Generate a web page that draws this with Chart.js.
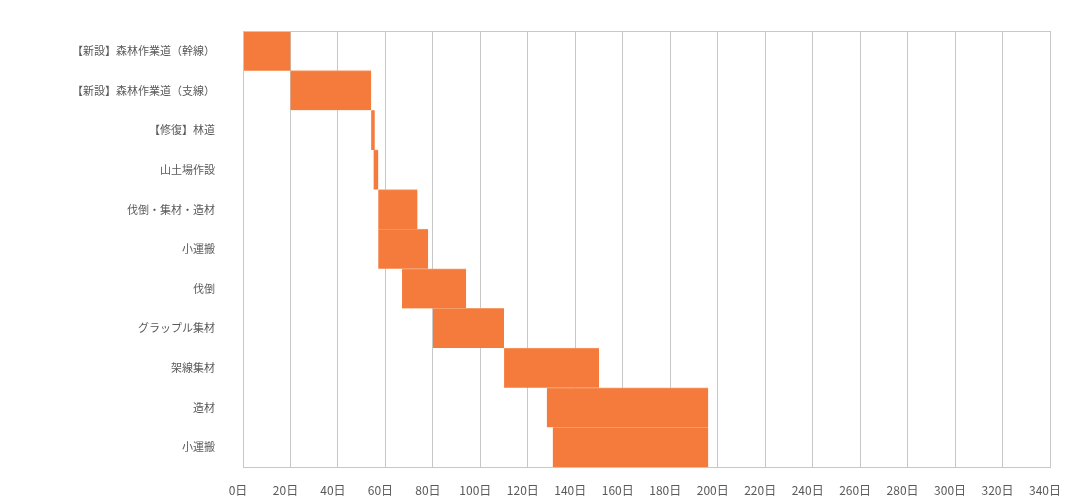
<!DOCTYPE html>
<html>
<head>
<meta charset="utf-8">
<script src="https://cdn.jsdelivr.net/npm/chart.js@4"></script>
<style>
  html, body { margin: 0; padding: 0; background: #fff; }
  #wrap { width: 1078px; height: 503px; }
</style>
</head>
<body>
<div id="wrap"><canvas id="myChart" width="1078" height="503"></canvas></div>
<script>
const tasks = [
  '【新設】森林作業道（幹線）',
  '【新設】森林作業道（支線）',
  '【修復】林道',
  '山土場作設',
  '伐倒・集材・造材',
  '小運搬',
  '伐倒',
  'グラップル集材',
  '架線集材',
  '造材',
  '小運搬'
];
const startDays = [0, 20, 54, 55, 57, 57, 67, 80, 110, 128, 130.5];
const endDays   = [20, 54, 55.5, 57, 73.5, 78, 94, 110, 150, 196, 196];
const xMax = 340;
const xStep = 20;

const spans = startDays.map((s, i) => [s, endDays[i]]);

const frame = {
  id: 'frame',
  afterDraw(chart) {
    const a = chart.chartArea;
    const ctx = chart.ctx;
    ctx.save();
    ctx.strokeStyle = '#c8c8c8';
    ctx.lineWidth = 1;
    ctx.strokeRect(Math.round(a.left) + 0.5, Math.round(a.top) + 0.5,
      Math.round(a.right - a.left), Math.round(a.bottom - a.top));
    ctx.restore();
  }
};

const mydata = {
  labels: tasks,
  datasets: [{
    label: '期間',
    data: spans,
    backgroundColor: '#F47B3C',
    borderColor: '#F69A68',
    borderWidth: { top: 1, bottom: 0, left: 0, right: 0 },
    borderSkipped: false,
    barPercentage: 1,
    categoryPercentage: 1
  }]
};

const myconfig = {
  type: 'bar',
  data: mydata,
  options: {
    indexAxis: 'y',
    responsive: false,
    animation: false,
    layout: { padding: { top: 31, right: 28, left: 0, bottom: 0 } },
    plugins: { legend: { display: false }, tooltip: { enabled: false } },
    scales: {
      x: {
        min: 0,
        max: xMax,
        ticks: {
          stepSize: xStep,
          color: '#595959',
          font: { family: "'Noto Sans CJK JP', 'Noto Sans'", size: 12 },
          labelOffset: -5,
          padding: 16,
          maxRotation: 0,
          autoSkip: false,
          callback: v => v + '日'
        },
        grid: { color: '#c8c8c8', drawTicks: false },
        border: { display: false },
        afterFit: s => { s.height = 36; s.paddingRight = 0; s.paddingLeft = 0; }
      },
      y: {
        ticks: {
          color: '#595959',
          font: { family: "'Noto Sans CJK JP', 'Noto Sans'", size: 11 },
          padding: 20,
          autoSkip: false
        },
        grid: { display: false },
        border: { display: false },
        afterFit: s => { s.width = 243; }
      }
    }
  },
  plugins: [frame]
};

const myChart = new Chart(document.getElementById('myChart'), myconfig);
</script>
</body>
</html>
